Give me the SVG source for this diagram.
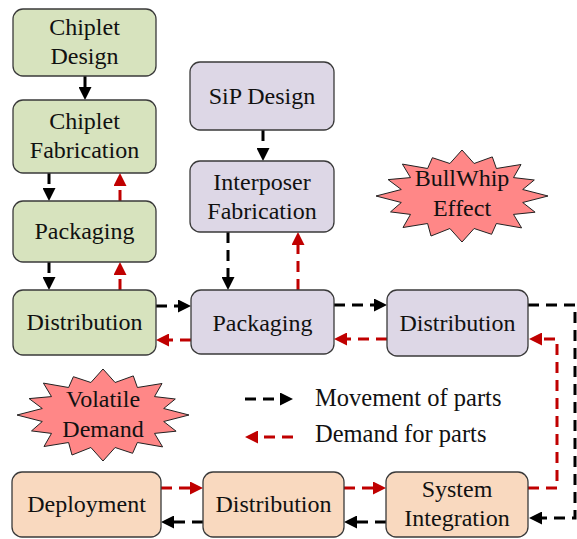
<svg xmlns="http://www.w3.org/2000/svg" width="577" height="539" viewBox="0 0 577 539">
<style>
text{font-family:'Liberation Serif','Times New Roman',Times,'Nimbus Roman','Nimbus Roman No9 L','Noto Serif',FreeSerif,Tinos,'DejaVu Serif',serif;font-size:24px;fill:#111;text-anchor:middle}
.g{fill:#d7e3be;stroke:#3a3a3a;stroke-width:1.3}
.p{fill:#ddd7e6;stroke:#3a3a3a;stroke-width:1.3}
.o{fill:#f9d9bf;stroke:#3a3a3a;stroke-width:1.3}
.star{fill:#ff8787;stroke:#222;stroke-width:1}
.k{fill:none;stroke:#000;stroke-width:3;marker-end:url(#ak)}
.ks{fill:none;stroke:#000;stroke-width:3;stroke-dasharray:11 7;marker-end:url(#ak)}
.r{fill:none;stroke:#c00000;stroke-width:3;stroke-dasharray:11 7;marker-end:url(#ar)}
.leg{text-anchor:start;font-size:24.5px}
</style>
<defs>
<marker id="ak" viewBox="0 0 13 13" refX="1" refY="6.5" markerWidth="13" markerHeight="13" markerUnits="userSpaceOnUse" orient="auto"><path d="M0,0 L13,6.5 L0,13 z" fill="#000"/></marker>
<marker id="ar" viewBox="0 0 13 13" refX="1" refY="6.5" markerWidth="13" markerHeight="13" markerUnits="userSpaceOnUse" orient="auto"><path d="M0,0 L13,6.5 L0,13 z" fill="#c00000"/></marker>
<polygon id="burst" points="86,0 60.7,6.5 73.1,16.2 51.5,18.4 59.6,31.9 34.4,27.5 29.6,38.3 12.1,32.5 0,46 -12.1,32.5 -31,40 -34.4,27.5 -59,31.5 -51.5,18.4 -71.5,15.9 -60.7,6.5 -86,0 -60.7,-6.5 -73.9,-16.4 -51.5,-18.4 -59.6,-31.9 -34.4,-27.5 -29.6,-38.3 -12.1,-32.5 0,-46 12.1,-32.5 30.3,-39.1 34.4,-27.5 59,-31.5 51.5,-18.4 72.3,-16 60.7,-6.5"/>
</defs>

<g id="connectors">
<path class="k" d="M85,76 V88"/>
<path class="ks" d="M49,173 V189"/>
<path class="r" d="M120,201 V185"/>
<path class="ks" d="M49,262 V278"/>
<path class="r" d="M120,290 V274"/>
<path class="ks" d="M263,130 V149"/>
<path class="ks" d="M228,232 V278"/>
<path class="r" d="M298,290 V244"/>
<path class="ks" d="M156,306 H179"/>
<path class="r" d="M191,340 H168"/>
<path class="ks" d="M334,305 H375"/>
<path class="r" d="M387,339 H346"/>
<path class="ks" d="M528,305 H575 V518 H541"/>
<path class="r" d="M528,488 H557 V339 H541"/>
<path class="r" d="M161,488 H191"/>
<path class="r" d="M344,488 H374"/>
<path class="ks" d="M386,522 H356"/>
<path class="ks" d="M203,522 H173"/>
</g>

<g id="chiplet-design"><rect class="g" x="13" y="9" width="143" height="67" rx="10"/><text x="84.5" y="35">Chiplet</text><text x="84.5" y="64">Design</text></g>
<g id="chiplet-fabrication"><rect class="g" x="13" y="100" width="143" height="73" rx="10"/><text x="84.5" y="129">Chiplet</text><text x="84.5" y="158">Fabrication</text></g>
<g id="chiplet-packaging"><rect class="g" x="13" y="201" width="143" height="61" rx="10"/><text x="84.5" y="239">Packaging</text></g>
<g id="chiplet-distribution"><rect class="g" x="13" y="290" width="143" height="65" rx="10"/><text x="84.5" y="330">Distribution</text></g>

<g id="sip-design"><rect class="p" x="190" y="62" width="144" height="68" rx="10"/><text x="262" y="104">SiP Design</text></g>
<g id="interposer-fabrication"><rect class="p" x="190" y="161" width="144" height="71" rx="10"/><text x="262" y="190">Interposer</text><text x="262" y="219">Fabrication</text></g>
<g id="sip-packaging"><rect class="p" x="191" y="290" width="143" height="64" rx="10"/><text x="262.5" y="331">Packaging</text></g>
<g id="sip-distribution"><rect class="p" x="387" y="290" width="141" height="66" rx="10"/><text x="457.5" y="331">Distribution</text></g>

<g id="deployment"><rect class="o" x="12" y="472" width="149" height="65" rx="10"/><text x="86.5" y="512">Deployment</text></g>
<g id="system-distribution"><rect class="o" x="203" y="472" width="141" height="65" rx="10"/><text x="273.5" y="512">Distribution</text></g>
<g id="system-integration"><rect class="o" x="386" y="472" width="142" height="65" rx="10"/><text x="457" y="497">System</text><text x="457" y="526">Integration</text></g>

<g id="bullwhip"><use href="#burst" class="star" transform="translate(462,196)"/><text x="462" y="186">BullWhip</text><text x="462" y="216">Effect</text></g>
<g id="volatile-demand"><use href="#burst" class="star" transform="translate(103,415)"/><text x="103" y="407">Volatile</text><text x="103" y="437">Demand</text></g>

<g id="legend">
<path class="ks" d="M245,399 H281"/>
<path class="r" d="M293,437 H257"/>
<text class="leg" x="315" y="406">Movement of parts</text>
<text class="leg" x="315" y="442">Demand for parts</text>
</g>
</svg>
